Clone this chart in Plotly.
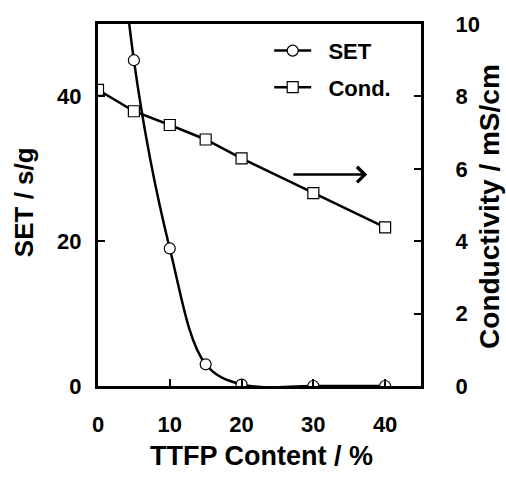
import plotly.graph_objects as go

# TTFP content (%) and measured properties
set_x = [0, 5, 10, 15, 20, 30, 40]
set_y = [100, 45, 19, 3, 0.2, 0, 0]          # self-extinguishing time, s/g (0 % point is off-scale)
cond_x = [0, 5, 10, 15, 20, 30, 40]
cond_y = [8.18, 7.59, 7.21, 6.81, 6.29, 5.33, 4.38]  # conductivity, mS/cm

x_ticks = [0, 10, 20, 30, 40]
left_ticks = [0, 20, 40]
right_ticks = [0, 2, 4, 6, 8, 10]

FONT = "Liberation Sans, Arial, sans-serif"
NBSP = "\u00a0"

fig = go.Figure()

fig.add_trace(go.Scatter(
    x=set_x, y=set_y, name=NBSP * 2 + "SET", mode="lines+markers",
    line=dict(color="black", width=2.5, shape="spline", smoothing=1.0),
    marker=dict(symbol="circle", size=11, color="white",
                line=dict(color="black", width=1.2)),
    legendgroup="a",
))
fig.add_trace(go.Scatter(
    x=cond_x, y=cond_y, name=NBSP * 2 + "Cond.", mode="lines+markers", yaxis="y2",
    line=dict(color="black", width=2.5),
    marker=dict(symbol="square", size=11, color="white",
                line=dict(color="black", width=1.2)),
    legendgroup="b",
))

axis_common = dict(
    showgrid=False, zeroline=False, showline=True, linecolor="black",
    linewidth=3, ticks="inside", ticklen=7, tickwidth=2, tickcolor="black",
    tickfont=dict(family=FONT, size=22, color="black", weight="bold"),
)

fig.update_layout(
    width=506, height=478,
    margin=dict(l=98, r=85, t=20, b=92),
    paper_bgcolor="white", plot_bgcolor="white",
    xaxis=dict(range=[0, 45], tickvals=x_ticks, mirror=True,
               ticklabelstandoff=17, **axis_common),
    yaxis=dict(range=[0, 50], tickvals=left_ticks,
               ticklabelstandoff=9, **axis_common),
    yaxis2=dict(range=[0, 10], tickvals=right_ticks, overlaying="y",
                side="right", ticklabelstandoff=27, **axis_common),
    showlegend=True,
    legend=dict(x=0.53, y=0.984, xanchor="left", yanchor="top",
                bgcolor="rgba(0,0,0,0)", traceorder="grouped",
                tracegroupgap=5, itemwidth=37,
                font=dict(family=FONT, size=22, color="black", weight="bold")),
)

title_font = dict(family=FONT, color="black", weight="bold")
fig.add_annotation(text="TTFP Content / %", xref="paper", yref="paper",
                   x=0.505, y=-0.194, xanchor="center", yanchor="middle",
                   showarrow=False, font=dict(size=27, **title_font))
fig.add_annotation(text="SET / s/g", xref="paper", yref="paper",
                   x=-0.229, y=0.508, xanchor="center", yanchor="middle",
                   showarrow=False, textangle=-90,
                   font=dict(size=26, **title_font))
fig.add_annotation(text="Conductivity / mS/cm", xref="paper", yref="paper",
                   x=1.214, y=0.495, xanchor="center", yanchor="middle",
                   showarrow=False, textangle=-90,
                   font=dict(size=28, **title_font))

# arrow pointing to the right-hand (conductivity) axis
fig.add_annotation(x=37.5, y=29.2, ax=27, ay=29.2, xref="x", yref="y",
                   axref="x", ayref="y", text="", showarrow=True,
                   arrowhead=4, arrowsize=1.2, arrowwidth=2.5,
                   arrowcolor="black")

fig.write_html("out.html")
